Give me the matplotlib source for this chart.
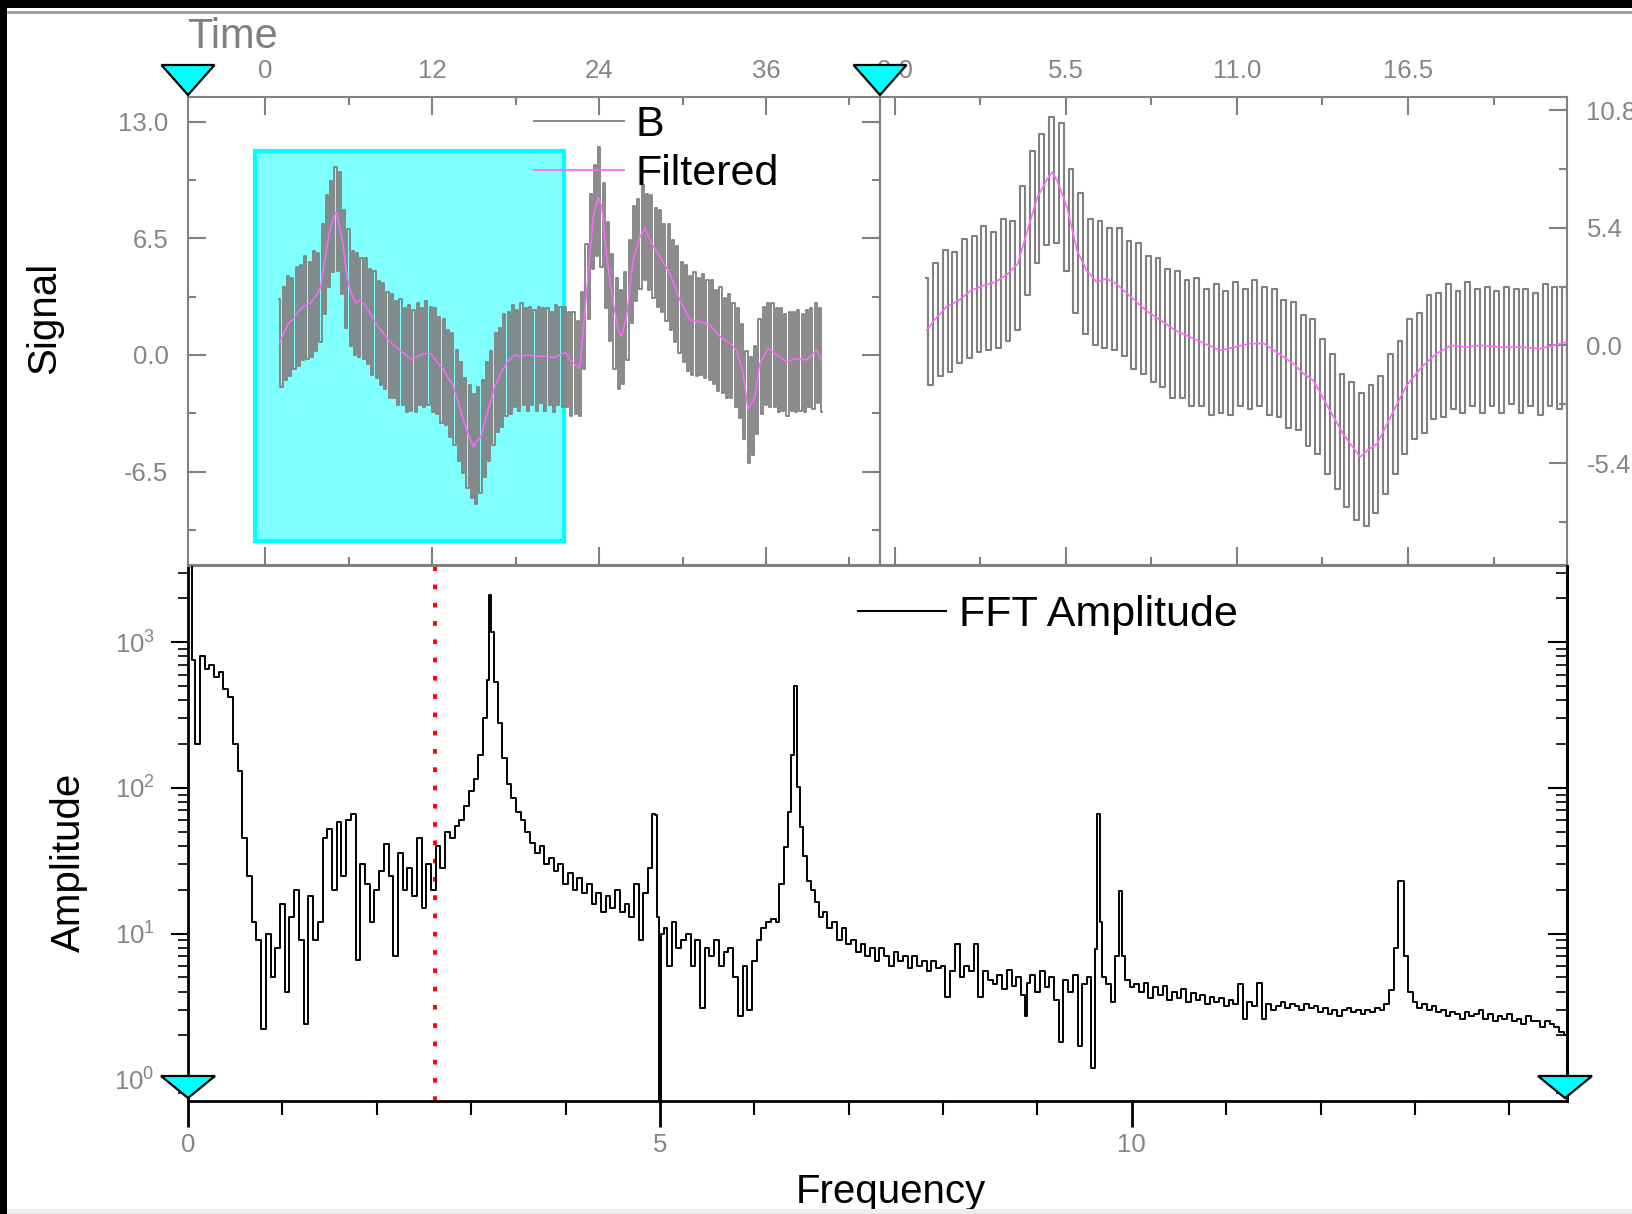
import numpy as np
import matplotlib
matplotlib.use('Agg')
import matplotlib.pyplot as plt
from matplotlib.patches import Polygon, Rectangle
from matplotlib.lines import Line2D
from matplotlib.ticker import FixedLocator, FormatStrFormatter, LogLocator, NullFormatter

plt.rcParams['font.family'] = ['Liberation Sans', 'DejaVu Sans']
plt.rcParams['axes.unicode_minus'] = False

# ---------------- data ----------------
# B signal: successive peak / trough values of the oscillation (one per half cycle)
b_t_first, b_t_last = 1.0, 40.04
b_peaks = [3.1, 3.8, 4.4, 4.3, 4.9, 5.0, 5.5, 5.2, 5.8, 5.7,
           7.3, 8.9, 9.7, 10.5, 10.2, 8.1, 7.0, 5.8, 5.7, 5.4,
           5.4, 4.8, 4.7, 4.1, 4.0, 3.5, 3.4, 3.0, 3.1, 2.6,
           2.8, 2.5, 2.9, 2.6, 3.0, 2.7, 2.6, 2.1, 2.0, 1.4,
           1.2, 0.3, -0.4, -1.3, -1.7, -2.2, -1.8, -1.4, -0.4, 0.2,
           1.2, 1.5, 2.3, 2.4, 2.8, 2.5, 2.9, 2.6, 2.7, 2.5,
           2.7, 2.6, 2.6, 2.4, 2.8, 2.7, 2.7, 2.4, 2.4, 1.9,
           3.5, 6.2, 9.0, 10.6, 11.6, 9.6, 7.4, 5.6, 4.3, 3.6,
           4.6, 6.4, 8.3, 8.7, 9.5, 9.0, 8.9, 8.2, 8.1, 7.3,
           7.3, 6.4, 6.1, 5.2, 5.0, 4.4, 4.6, 4.3, 4.5, 4.2,
           4.2, 3.6, 3.8, 3.2, 3.4, 2.9, 2.6, 1.7, 0.2, -0.1,
           0.5, 2.0, 2.7, 2.9, 2.9, 2.6, 2.6, 2.3, 2.4, 2.4,
           2.5, 2.3, 2.5, 2.6, 2.9, 2.6]
b_troughs = [-1.8, -1.4, -1.2, -0.8, -0.6, -0.3, -0.2, -0.1, 0.2, 0.7,
             2.3, 3.8, 4.6, 4.7, 3.4, 1.5, 0.5, 0.0, -0.1, -0.2,
             -0.5, -1.1, -1.3, -1.7, -1.9, -2.4, -2.4, -2.8, -2.8, -3.2,
             -3.1, -3.2, -2.8, -2.9, -2.8, -3.2, -3.3, -3.8, -3.9, -4.6,
             -5.0, -5.9, -6.6, -7.4, -8.0, -8.3, -7.7, -6.8, -5.9, -5.0,
             -4.3, -4.0, -3.4, -3.3, -2.9, -3.1, -2.8, -3.1, -2.8, -3.1,
             -2.7, -3.1, -2.8, -3.2, -2.8, -2.9, -2.9, -3.4, -3.3, -3.4,
             -0.8, 2.0, 4.8, 5.5, 4.9, 2.6, 0.8, -0.8, -1.9, -1.6,
             -0.3, 1.8, 3.0, 3.7, 4.2, 3.6, 3.2, 2.7, 2.4, 1.9,
             1.4, 0.7, 0.1, -0.4, -0.9, -1.1, -1.2, -1.1, -1.3, -1.4,
             -1.6, -2.0, -2.1, -2.4, -2.4, -2.9, -3.5, -4.7, -6.0, -5.6,
             -4.4, -3.3, -2.8, -2.9, -2.9, -3.2, -3.1, -3.4, -3.1, -3.2,
             -3.1, -3.2, -2.9, -3.0, -2.7, -3.2]

filt_t = [1.03, 1.27, 1.66, 2.06, 2.45, 2.85, 3.25, 3.64, 3.96, 4.27,
          4.59, 4.91, 5.07, 5.22, 5.54, 5.86, 6.17, 6.49, 6.81, 7.12,
          7.60, 8.07, 8.55, 9.02, 9.50, 9.97, 10.45, 10.92, 11.40, 11.87,
          12.35, 12.82, 13.14, 13.46, 13.93, 14.41, 14.72, 14.96, 15.20, 15.51,
          15.83, 16.15, 16.46, 16.94, 17.41, 17.89, 18.36, 18.84, 19.47, 20.10,
          20.74, 21.60, 21.90, 22.60, 22.86, 23.22, 23.58, 23.94, 24.18, 24.54,
          25.02, 25.37, 25.61, 25.97, 26.45, 26.93, 27.29, 27.77, 28.37, 29.09,
          29.81, 30.53, 31.25, 31.97, 32.69, 33.40, 33.88, 34.36, 34.72, 35.20,
          35.56, 36.16, 36.76, 37.48, 38.20, 38.92, 39.64, 40.00]
filt_v = [0.69, 1.15, 1.76, 2.06, 2.52, 2.75, 2.91, 3.29, 3.75, 5.28,
          6.80, 7.65, 7.95, 7.57, 6.35, 4.36, 3.44, 2.91, 3.06, 2.83,
          2.22, 1.61, 1.15, 0.69, 0.38, 0.08, -0.23, -0.08, 0.08, 0.08,
          -0.38, -0.84, -1.30, -1.61, -2.83, -4.05, -4.66, -5.12, -4.82, -4.51,
          -3.59, -2.68, -1.83, -0.99, -0.38, 0.00, -0.08, 0.00, -0.08, -0.08,
          -0.15, 0.15, -0.28, -0.75, 1.39, 4.55, 7.71, 8.82, 8.27, 5.48,
          2.88, 1.39, 1.02, 2.13, 5.29, 6.59, 7.06, 6.22, 5.48, 4.55,
          3.06, 1.95, 1.85, 1.67, 1.02, 0.65, 0.27, -1.03, -3.07, -2.33,
          -0.47, 0.37, 0.00, -0.38, -0.19, -0.28, 0.27, -0.28]

fft_freq = [0.00, 0.03, 0.05, 0.10, 0.15, 0.20, 0.25, 0.30, 0.35, 0.40,
            0.45, 0.50, 0.55, 0.60, 0.65, 0.70, 0.75, 0.80, 0.85, 0.90,
            0.95, 1.00, 1.05, 1.10, 1.15, 1.20, 1.25, 1.30, 1.35, 1.40,
            1.45, 1.50, 1.55, 1.60, 1.65, 1.70, 1.75, 1.80, 1.85, 1.90,
            1.95, 2.00, 2.05, 2.10, 2.15, 2.20, 2.25, 2.30, 2.35, 2.40,
            2.45, 2.50, 2.55, 2.60, 2.65, 2.70, 2.75, 2.80, 2.85, 2.90,
            2.95, 3.00, 3.05, 3.10, 3.15, 3.18, 3.20, 3.23, 3.26, 3.30,
            3.35, 3.40, 3.45, 3.50, 3.55, 3.60, 3.65, 3.70, 3.75, 3.80,
            3.85, 3.90, 3.95, 4.00, 4.05, 4.10, 4.15, 4.20, 4.25, 4.30,
            4.35, 4.40, 4.45, 4.50, 4.55, 4.60, 4.65, 4.70, 4.75, 4.80,
            4.85, 4.90, 4.93, 4.96, 4.98, 5.00, 5.03, 5.05, 5.10, 5.15,
            5.20, 5.25, 5.30, 5.35, 5.40, 5.45, 5.50, 5.55, 5.60, 5.65,
            5.70, 5.75, 5.80, 5.85, 5.90, 5.95, 6.00, 6.05, 6.10, 6.15,
            6.20, 6.25, 6.28, 6.34, 6.37, 6.41, 6.44, 6.47, 6.50, 6.53,
            6.58, 6.62, 6.66, 6.70, 6.75, 6.80, 6.85, 6.90, 6.95, 7.00,
            7.05, 7.10, 7.15, 7.20, 7.25, 7.30, 7.35, 7.40, 7.45, 7.50,
            7.55, 7.60, 7.65, 7.70, 7.75, 7.80, 7.85, 7.90, 7.95, 8.00,
            8.05, 8.10, 8.15, 8.20, 8.25, 8.30, 8.35, 8.40, 8.45, 8.50,
            8.55, 8.60, 8.65, 8.70, 8.75, 8.80, 8.85, 8.88, 8.90, 8.95,
            9.00, 9.05, 9.10, 9.15, 9.20, 9.25, 9.30, 9.35, 9.40, 9.45,
            9.50, 9.55, 9.59, 9.62, 9.645, 9.67, 9.70, 9.75, 9.80, 9.85,
            9.88, 9.91, 9.95, 10.00, 10.05, 10.10, 10.15, 10.20, 10.25, 10.30,
            10.35, 10.40, 10.45, 10.50, 10.55, 10.60, 10.65, 10.70, 10.75, 10.80,
            10.85, 10.90, 10.95, 11.00, 11.05, 11.10, 11.15, 11.20, 11.25, 11.30,
            11.35, 11.40, 11.45, 11.50, 11.55, 11.60, 11.65, 11.70, 11.75, 11.80,
            11.85, 11.90, 11.95, 12.00, 12.05, 12.10, 12.15, 12.20, 12.25, 12.30,
            12.35, 12.40, 12.45, 12.50, 12.55, 12.60, 12.65, 12.70, 12.75, 12.80,
            12.83, 12.87, 12.90, 12.95, 13.00, 13.05, 13.10, 13.15, 13.20, 13.25,
            13.30, 13.35, 13.40, 13.45, 13.50, 13.55, 13.60, 13.65, 13.70, 13.75,
            13.80, 13.85, 13.90, 13.95, 14.00, 14.05, 14.10, 14.15, 14.20, 14.25,
            14.30, 14.35, 14.40, 14.45, 14.50, 14.55, 14.60]
fft_amp = [3400, 3400, 750, 200, 800, 650, 700, 580, 620, 480,
           420, 200, 130, 45, 25, 12, 9, 2.2, 10, 5,
           8, 16, 4, 13, 20, 9, 2.4, 18, 9, 12,
           45, 52, 20, 58, 25, 60, 66, 6.6, 30, 22,
           12, 20, 27, 41, 25, 7, 36, 20, 28, 18,
           45, 15, 30, 20, 40, 28, 50, 45, 55, 60,
           75, 95, 115, 167, 300, 550, 2100, 1180, 530, 277,
           160, 107, 85, 68, 60, 50, 42, 36, 40, 30,
           33, 27, 30, 22, 26, 20, 24, 19, 22, 16,
           19, 14, 18, 15, 20, 14, 16, 13, 22, 9,
           19, 28, 66, 65, 13, 0.5, 10, 11, 6, 12,
           8, 9, 10, 6, 9, 3.1, 8, 7, 9, 6,
           7.5, 8, 5, 2.7, 6, 3.0, 6.5, 9, 11, 12,
           12.5, 12, 22, 39, 68, 169, 500, 101, 54, 34,
           23, 20, 16.5, 13, 14, 11, 12, 9, 11, 8.5,
           9, 7.5, 8.5, 7, 8, 6.5, 8, 7, 6, 7.5,
           6.5, 7, 5.8, 7, 6, 6.5, 5.5, 6.5, 5.8, 6,
           3.7, 5.5, 8.5, 5, 6, 5.5, 8.5, 3.7, 5.5, 4.8,
           4.5, 5.2, 4.2, 5.6, 4.4, 5, 3.8, 2.7, 4.6, 5.2,
           4, 5.5, 4.3, 5, 3.5, 1.8, 4.8, 4, 5.2, 1.7,
           4.5, 5, 1.2, 7.9, 66, 12, 5, 4.5, 3.4, 7,
           19.6, 7, 4.8, 4.3, 4.5, 4, 4.6, 3.6, 4.3, 3.8,
           4.4, 3.5, 4, 3.6, 4.2, 3.4, 3.9, 3.5, 3.8, 3.3,
           3.7, 3.4, 3.6, 3.2, 3.5, 3.3, 4.5, 2.6, 3.4, 3.2,
           4.6, 2.6, 3.3, 3.0, 3.2, 3.4, 3.1, 3.3, 3.2, 3.0,
           3.3, 3.1, 3.2, 2.9, 3.1, 2.8, 3.0, 2.7, 3.0, 3.1,
           2.9, 3.0, 2.8, 3.0, 2.9, 3.1, 3.0, 3.3, 4.1, 8,
           23, 23, 7, 4.0, 3.4, 3.1, 3.3, 3.0, 3.2, 2.9,
           3.0, 2.7, 2.9, 2.8, 2.6, 2.9, 2.7, 2.8, 3.0, 2.6,
           2.8, 2.5, 2.7, 2.6, 2.8, 2.5, 2.6, 2.4, 2.7, 2.5,
           2.5, 2.3, 2.5, 2.4, 2.3, 2.1, 2.0]

cutoff_freq = 2.62
zoom_t = (-0.75, 21.5)
zoom_v = (-10.38, 11.37)

time_major = [0, 12, 24, 36]
time_minor = [6, 18, 30, 42]
signal_major = [13.0, 6.5, 0.0, -6.5]
signal_minor = [9.75, 3.25, -3.25, -9.75]
zt_major = [0.0, 5.5, 11.0, 16.5]
zt_minor = [2.75, 8.25, 13.75, 19.25]
zs_major = [10.8, 5.4, 0.0, -5.4]
zs_minor = [8.1, 2.7, -2.7, -8.1]
freq_major = [0, 5, 10]
freq_minor = list(range(1, 15))

# ---------------- figure ----------------
W, H = 1632, 1214
fig = plt.figure(figsize=(W / 100, H / 100), dpi=100)
fig.patch.set_facecolor('white')


def box(l, t, r, b):
    return [l / W, 1 - b / H, (r - l) / W, (b - t) / H]


TL = (188, 97, 880, 565)
TR = (880, 97, 1567, 565)
BT = (188, 566, 1567, 1101)
ax_tl = fig.add_axes(box(*TL))
ax_tr = fig.add_axes(box(*TR))
ax_b = fig.add_axes(box(*BT))

gray = '#808080'
tick_gray = '#858585'
magenta = '#ff66ff'

b_vals = np.empty(len(b_peaks) + len(b_troughs))
b_vals[0::2] = b_peaks
b_vals[1::2] = b_troughs
b_time = np.linspace(b_t_first, b_t_last, len(b_vals))

# --- top-left panel ---
ax_tl.add_patch(Rectangle((zoom_t[0], zoom_v[0]), zoom_t[1] - zoom_t[0], zoom_v[1] - zoom_v[0],
                          facecolor='#80ffff', edgecolor='#00ffff', lw=3, zorder=0.5))
ax_tl.plot(b_time, b_vals, color=gray, lw=1.3, drawstyle='steps-mid', zorder=2)
ax_tl.plot(filt_t, filt_v, color=magenta, lw=1.1, zorder=3)
ax_tl.set_xlim(-5.57, 44.2)
ax_tl.set_ylim(-11.71, 14.38)
ax_tl.xaxis.set_major_locator(FixedLocator(time_major))
ax_tl.xaxis.set_minor_locator(FixedLocator(time_minor))
ax_tl.xaxis.set_major_formatter(FormatStrFormatter('%d'))
ax_tl.yaxis.set_major_locator(FixedLocator(signal_major))
ax_tl.yaxis.set_minor_locator(FixedLocator(signal_minor))
ax_tl.yaxis.set_major_formatter(FormatStrFormatter('%.1f'))
ax_tl.tick_params(which='both', direction='in', top=True, bottom=True, left=True, right=True,
                  labeltop=True, labelbottom=False, labelleft=True, labelright=False,
                  color=gray, labelcolor=tick_gray, labelsize=18.5, width=1.5)
ax_tl.tick_params(which='major', length=13)
ax_tl.tick_params(which='minor', length=6)
ax_tl.tick_params(axis='x', pad=10)
ax_tl.tick_params(axis='y', pad=14)

h_b = Line2D([], [], color=gray, lw=1.3)
h_f = Line2D([], [], color=magenta, lw=1.3)
ax_tl.legend([h_b, h_f], ['B', 'Filtered'], loc='upper left',
             bbox_to_anchor=(534 / W, 1 - 105 / H), bbox_transform=fig.transFigure,
             frameon=False, fontsize=31, handlelength=2.1, handletextpad=0.25,
             borderpad=0, borderaxespad=0, labelspacing=0.22)

# --- top-right panel (zoom of the cyan region) ---
ax_tr.plot(b_time, b_vals, color=gray, lw=1.5, drawstyle='steps-mid', zorder=2)
ax_tr.plot(filt_t, filt_v, color=magenta, lw=1.2, zorder=3)
ax_tr.set_xlim(-0.47, 21.61)
ax_tr.set_ylim(-10.08, 11.40)
ax_tr.xaxis.set_major_locator(FixedLocator(zt_major))
ax_tr.xaxis.set_minor_locator(FixedLocator(zt_minor))
ax_tr.xaxis.set_major_formatter(FormatStrFormatter('%.1f'))
ax_tr.yaxis.set_major_locator(FixedLocator(zs_major))
ax_tr.yaxis.set_minor_locator(FixedLocator(zs_minor))
ax_tr.yaxis.set_major_formatter(FormatStrFormatter('%.1f'))
ax_tr.tick_params(which='both', direction='in', top=True, bottom=True, left=False, right=True,
                  labeltop=True, labelbottom=False, labelleft=False, labelright=True,
                  color=gray, labelcolor=tick_gray, labelsize=18.5, width=1.5)
ax_tr.tick_params(which='major', length=13)
ax_tr.tick_params(which='minor', length=6)
ax_tr.tick_params(axis='x', pad=10)
ax_tr.tick_params(axis='y', pad=14)

for ax in (ax_tl, ax_tr):
    for s in ax.spines.values():
        s.set_color(gray)
        s.set_linewidth(1.5)

# --- bottom FFT panel ---
ax_b.plot(fft_freq, fft_amp, color='black', lw=1.4, drawstyle='steps-mid', zorder=3)
ax_b.axvline(cutoff_freq, color='#ff0000', lw=2.8, linestyle=(0, (1.2, 3.5)), zorder=2)
ax_b.set_yscale('log')
ax_b.set_xlim(0, 14.61)
ax_b.set_ylim(0.71, 3334)
ax_r = ax_b.twinx()
ax_r.set_yscale('log')
ax_r.set_ylim(0.71, 3334)

ax_b.xaxis.set_major_locator(FixedLocator(freq_major))
ax_b.xaxis.set_minor_locator(FixedLocator(freq_minor))
ax_b.xaxis.set_major_formatter(FormatStrFormatter('%d'))
for a in (ax_b, ax_r):
    a.yaxis.set_major_locator(LogLocator(base=10, numticks=10))
    a.yaxis.set_minor_locator(LogLocator(base=10, subs=np.arange(2, 10), numticks=20))
    a.yaxis.set_minor_formatter(NullFormatter())

ax_b.tick_params(which='both', direction='out', top=False, right=False, left=True, bottom=True,
                 color='black', labelcolor=tick_gray, labelsize=18.5)
ax_b.tick_params(axis='x', which='major', length=19, width=2, pad=4)
ax_b.tick_params(axis='x', which='minor', length=10, width=1.5)
ax_b.tick_params(axis='y', which='major', length=12, width=1.5, pad=12)
ax_b.tick_params(axis='y', which='minor', length=7, width=1.2)
ax_r.tick_params(which='both', direction='in', right=True, left=False, labelright=False,
                 color='black')
ax_r.tick_params(which='major', length=14, width=1.5)
ax_r.tick_params(which='minor', length=8, width=1.2)

for name in ('left', 'bottom', 'right'):
    ax_b.spines[name].set_color('black')
    ax_b.spines[name].set_linewidth(2)
ax_b.spines['top'].set_color(gray)
ax_b.spines['top'].set_linewidth(1.5)
for name in ('left', 'bottom', 'top'):
    ax_r.spines[name].set_visible(False)
ax_r.spines['right'].set_color('black')
ax_r.spines['right'].set_linewidth(2)

ax_b.legend([Line2D([], [], color='black', lw=1.5)], ['FFT Amplitude'], loc='upper left',
            bbox_to_anchor=(858 / W, 1 - 595 / H), bbox_transform=fig.transFigure,
            frameon=False, fontsize=31, handlelength=2.05, handletextpad=0.3,
            borderpad=0, borderaxespad=0)

# --- axis titles ---
fig.text(187 / W, 1 - 37 / H, 'Time', ha='left', va='center', fontsize=30, color=gray)
fig.text(44 / W, 1 - 318 / H, 'Signal', ha='center', va='center', rotation=90, fontsize=29)
fig.text(69 / W, 1 - 862 / H, 'Amplitude', ha='center', va='center', rotation=90, fontsize=29)
fig.text(891 / W, 1 - 1192 / H, 'Frequency', ha='center', va='center', fontsize=29)


# --- layer markers (cyan triangles) ---
def tri(xc, ytip, w, h):
    pts = [(xc - w / 2, ytip - h), (xc + w / 2, ytip - h), (xc, ytip)]
    return [(x / W, 1 - y / H) for x, y in pts]


for xc, ytip, w, h in [(TL[0], TL[1] - 2, 53, 30), (TR[0], TR[1] - 2, 53, 30),
                       (BT[0], BT[3] - 3, 54, 22), (BT[2] - 2, BT[3] - 3, 54, 22)]:
    fig.add_artist(Polygon(tri(xc, ytip, w, h), closed=True, facecolor='#00ffff',
                           edgecolor='black', lw=1.6, transform=fig.transFigure, zorder=10))

# --- window frame ---
fig.add_artist(Rectangle((0, 1 - 8 / H), 1, 8 / H, transform=fig.transFigure,
                         facecolor='black', edgecolor='none', zorder=20))
fig.add_artist(Rectangle((0, 0), 7 / W, 1, transform=fig.transFigure,
                         facecolor='black', edgecolor='none', zorder=20))
fig.add_artist(Line2D([8 / W, 1], [1 - 11.5 / H, 1 - 11.5 / H], transform=fig.transFigure,
                      color='#999999', lw=2, zorder=20))
fig.add_artist(Rectangle((7 / W, 0), 1, 5 / H, transform=fig.transFigure,
                         facecolor='#ececec', edgecolor='none', zorder=20))

fig.savefig('out.png', dpi=100)
